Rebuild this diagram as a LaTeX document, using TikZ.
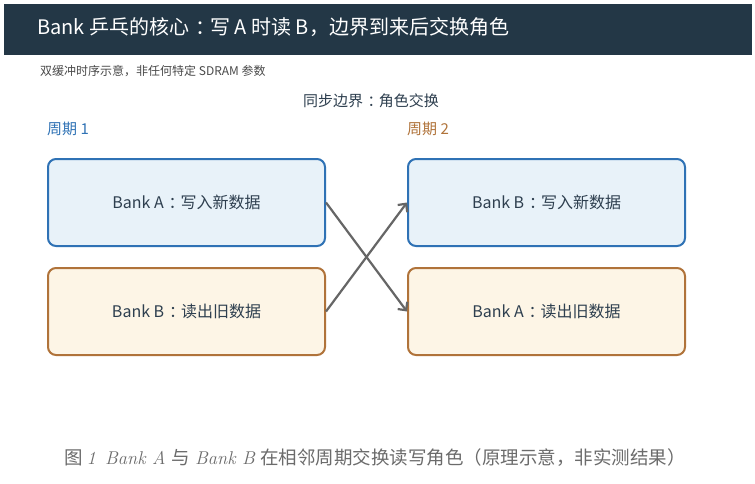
\documentclass[tikz,border=0pt]{standalone}
\usepackage{fontspec}
\usetikzlibrary{arrows.meta}
\newfontfamily\cjk{Noto Sans CJK SC}
\definecolor{barbg}{HTML}{233746}
\definecolor{txtdark}{HTML}{2E3F4F}
\definecolor{subgray}{HTML}{4A4A4A}
\definecolor{bluefill}{HTML}{E8F2F9}
\definecolor{blueline}{HTML}{2F72B5}
\definecolor{orfill}{HTML}{FDF5E6}
\definecolor{orline}{HTML}{B0733A}
\definecolor{arrowgray}{HTML}{666666}
\definecolor{capgray}{HTML}{6B6B6B}
\newcommand\ccol{\hspace{0.3em}：\hspace{-0.25em}}
\tikzset{
  fs/.style={font=\cjk\fontsize{#1}{#1}\selectfont},
  bankbox/.style={rounded corners=8pt, line width=2pt, minimum width=277pt, minimum height=87pt,
    text=txtdark, fs=16, inner sep=0pt},
  bluebox/.style={bankbox, draw=blueline, fill=bluefill},
  orbox/.style={bankbox, draw=orline, fill=orfill},
  swaparrow/.style={draw=arrowgray, line width=2.2pt, -{Straight Barb[length=6pt,width=12pt]}},
}
\begin{document}
\begin{tikzpicture}[x=1pt,y=-1pt]
\useasboundingbox[fill=white] (0,0) rectangle (755,483);
\fill[barbg] (4,4) rectangle (752,55);
\node[anchor=west, text=white, fs=20, inner sep=0pt] (title) at (37,27) {Bank 乒乓的核心\ccol 写 A 时读 B，边界到来后交换角色};
\node[anchor=west, text=subgray, fs=12, inner sep=0pt] (sub) at (40,71) {双缓冲时序示意，非任何特定 SDRAM 参数};
\node[text=txtdark, fs=15, inner sep=0pt] (sync) at (371,101) {同步边界\ccol 角色交换};
\node[anchor=west, text=blueline, fs=15, inner sep=0pt] (p1) at (47,129) {周期 1};
\node[anchor=west, text=orline, fs=15, inner sep=0pt] (p2) at (407,129) {周期 2};
\node[bluebox] (a1) at (186.5,202.5) {Bank A\ccol 写入新数据};
\node[orbox] (b1) at (186.5,311.5) {Bank B\ccol 读出旧数据};
\node[bluebox] (b2) at (546.5,202.5) {Bank B\ccol 写入新数据};
\node[orbox] (a2) at (546.5,311.5) {Bank A\ccol 读出旧数据};
\draw[swaparrow] (a1.east) -- (a2.west);
\draw[swaparrow] (b1.east) -- (b2.west);
\node[text=capgray, fs=18.5, inner sep=0pt] (cap) at (375,458) {图 {\rmfamily\itshape 1}\enspace{\rmfamily\itshape Bank A}\hspace{0.3em}与\hspace{0.3em}{\rmfamily\itshape Bank B}\hspace{0.3em}在相邻周期交换读写角色（原理示意，非实测结果）};
\end{tikzpicture}
\end{document}
